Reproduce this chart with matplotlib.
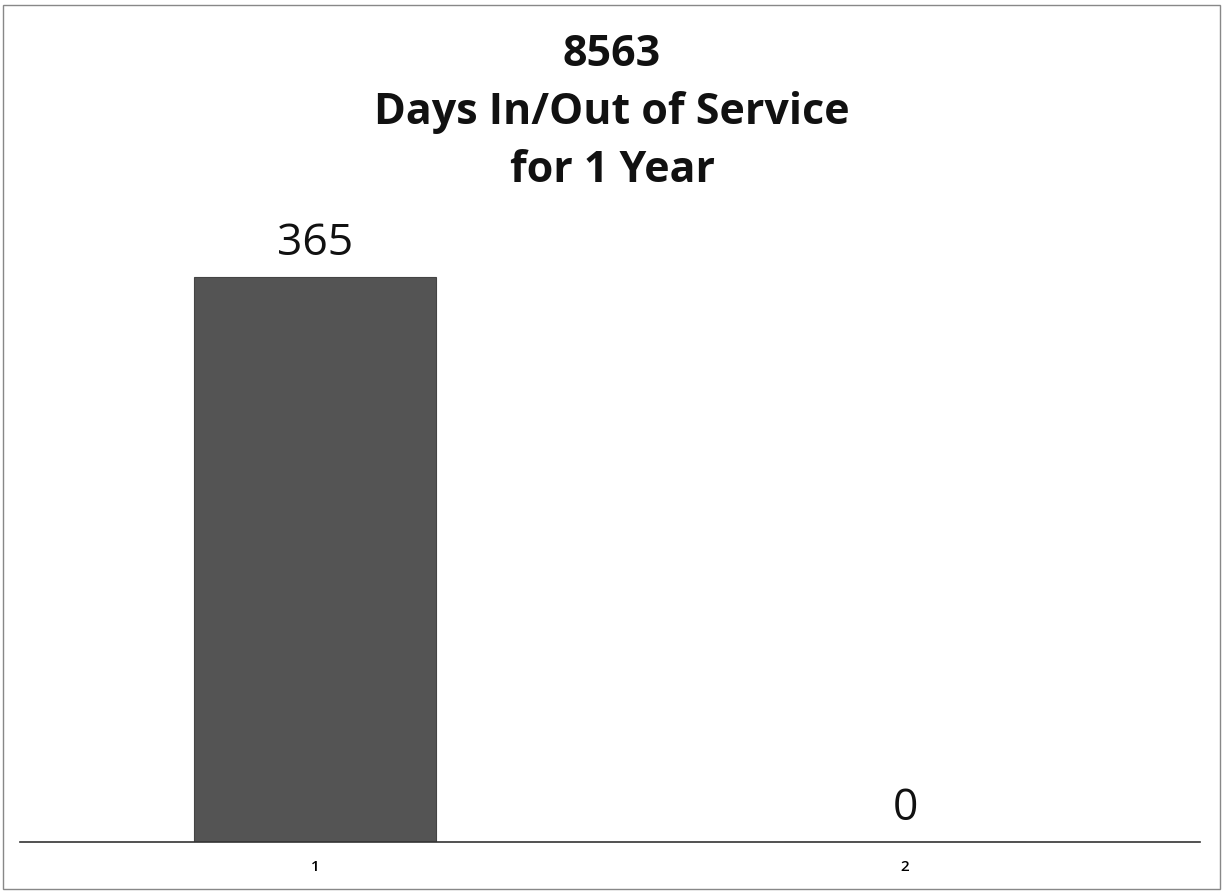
import matplotlib
matplotlib.use("Agg")
import matplotlib.pyplot as plt
from matplotlib.patches import Rectangle

categories = ["1", "2"]
values = [365, 0]
title_lines = ["8563", "Days In/Out of Service", "for 1 Year"]

fig = plt.figure(figsize=(12.24, 8.92), dpi=100)
ax = fig.add_axes([20/1224, 1-842/892, 1180/1224, (842-200)/892])
x = [1, 2]
ax.bar(x, values, width=0.41, color="#545454", edgecolor="#444444", linewidth=0.8)
ax.set_xlim(0.5, 2.5)
ax.set_ylim(0, 365*642/565)
for s in ["top", "right", "left"]:
    ax.spines[s].set_visible(False)
ax.spines["bottom"].set_color("#333333")
ax.spines["bottom"].set_linewidth(1.2)
ax.set_yticks([])
ax.set_xticks(x)
ax.set_xticklabels(categories, fontsize=11, family="Open Sans", fontweight="semibold")
ax.tick_params(axis="x", length=0, pad=13)
for xi, v in zip(x, values):
    ax.annotate(str(v), (xi, v), xytext=(0, 8), textcoords="offset points",
                ha="center", va="bottom", fontsize=32, family="Open Sans", color="#111111")

ys = [55, 112, 170]
for t, y in zip(title_lines, ys):
    fig.text(612/1224, 1-y/892, t, ha="center", va="center", fontsize=31,
             fontweight="bold", family="Open Sans", color="#111111")

fig.patches.append(Rectangle((3/1224, 3/892), 1217/1224, 884/892, transform=fig.transFigure,
                             fill=False, edgecolor="#888888", linewidth=1))
fig.savefig("out.png", dpi=100)
